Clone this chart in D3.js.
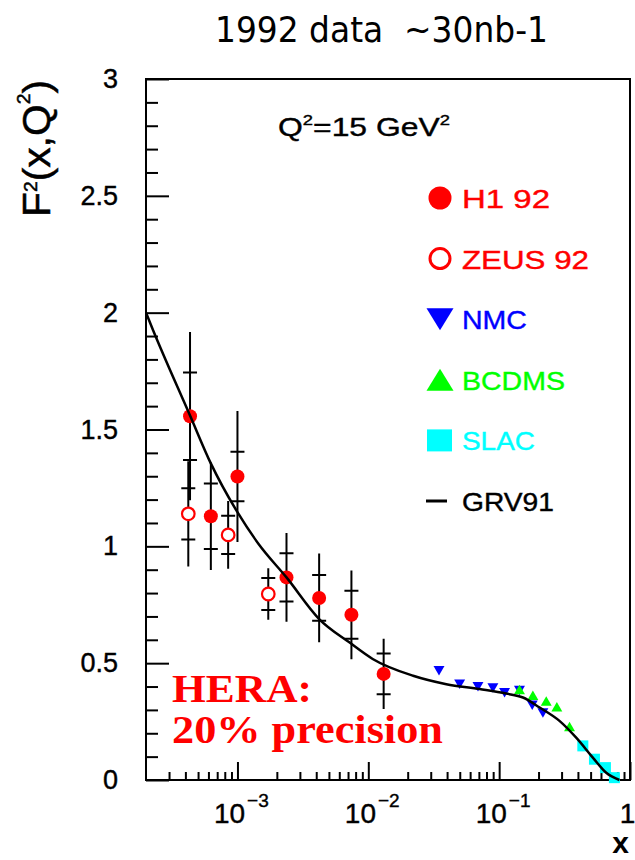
<!DOCTYPE html>
<html><head><meta charset="utf-8">
<script src="https://cdn.jsdelivr.net/npm/d3@7"></script>
<style>html,body{margin:0;padding:0;background:#fff;} svg{display:block;}</style>
</head><body><svg id="c" width="635" height="860"></svg>
<script>
// ---------- data ----------
const titleText = "1992 data  ~30nb-1";
const xDomain = [2e-4, 1];
const yDomain = [0, 3];
const yTickValues = [0, 0.5, 1, 1.5, 2, 2.5, 3];
const yTickLabels = ["0", "0.5", "1", "1.5", "2", "2.5", "3"];
const xTickValues = [1e-3, 1e-2, 1e-1, 1];
const xTickBase = ["10", "10", "10", "1"];
const xTickExp = ["\u22123", "\u22122", "\u22121", ""];

const h1X = [4.34e-4, 6.26e-4, 1.0e-3, 2.37e-3, 4.21e-3, 7.43e-3, 1.31e-2];
const h1F = [1.557, 1.129, 1.299, 0.867, 0.779, 0.707, 0.454];
const h1Stat = [0.187, 0.14, 0.106, 0.103, 0.098, 0.103, 0.087];
const h1Tot = [0.36, 0.23, 0.28, 0.19, 0.19, 0.19, 0.15];

const zeusX = [4.21e-4, 8.49e-4, 1.72e-3];
const zeusF = [1.139, 1.049, 0.796];
const zeusStat = [0.11, 0.082, 0.068];
const zeusTot = [0.225, 0.145, 0.11];

const nmcX = [0.0347, 0.0499, 0.0689, 0.0896, 0.110, 0.143, 0.179, 0.216];
const nmcF = [0.474, 0.417, 0.406, 0.400, 0.380, 0.390, 0.327, 0.294];

const bcdmsX = [0.143, 0.181, 0.229, 0.276, 0.345];
const bcdmsF = [0.381, 0.356, 0.331, 0.307, 0.222];

const slacX = [0.436, 0.535, 0.649, 0.76];
const slacF = [0.146, 0.089, 0.053, 0.010];

const grvX = [2.0e-4, 2.27e-4, 4.34e-4, 6.27e-4, 1.0e-3, 1.45e-3, 2.37e-3, 4.21e-3, 7.2e-3, 1.08e-2,
              0.022, 0.0395, 0.071, 0.113, 0.152, 0.204, 0.289, 0.388, 0.52, 0.658, 0.83];
const grvF = [2.0, 1.924, 1.56, 1.354, 1.146, 1.01, 0.867, 0.689, 0.588, 0.518,
              0.446, 0.41, 0.389, 0.37, 0.353, 0.31, 0.253, 0.181, 0.096, 0.031, 0.0];

const legendLabels = ["H1 92", "ZEUS 92", "NMC", "BCDMS", "SLAC", "GRV91"];
const q2Label = "Q";
const heraLines = ["HERA:", "20% precision"];

// ---------- layout / style ----------
const X0 = 146, X1 = 630, Y0 = 780, Y1 = 79;
const SANS = "'Liberation Sans', Arial, Helvetica, sans-serif";
const SERIF = "'Liberation Serif', 'Times New Roman', serif";
const RED = "#ff0000", BLUE = "#0000ff", GREEN = "#00ff00", CYAN = "#00ffff";
const legendColors = [RED, RED, BLUE, GREEN, CYAN, "#000"];
const legendWidths = [88, 127, 65, 103, 73, 92];

const svg = d3.select("#c");
const x = d3.scaleLog().domain(xDomain).range([X0, X1]);
const y = d3.scaleLinear().domain(yDomain).range([Y0, Y1]);

function fit(textSel, tx, ty, width, extra) {
  const len = textSel.node().getComputedTextLength();
  textSel.attr("x", 0).attr("y", 0)
    .attr("transform", `translate(${tx},${ty}) ${extra || ""} scale(${width / len},1)`);
}

// ---------- title ----------
const title = svg.append("text")
  .attr("font-family", "'DejaVu Sans', sans-serif")
  .attr("font-size", 36)
  .style("white-space", "pre")
  .attr("fill", "#000")
  .text(titleText);
fit(title, 215, 42, 333);

// ---------- axes ----------
const yMinor = d3.range(0, 31).filter(i => i % 5 !== 0).map(i => i / 10);
svg.append("g").attr("transform", `translate(${X0},0)`)
  .call(d3.axisLeft(y).tickValues(yMinor).tickSize(-12).tickFormat(""))
  .call(g => g.select(".domain").remove())
  .call(g => g.selectAll("line").attr("stroke", "#000").attr("stroke-width", 2));

svg.append("g").attr("transform", `translate(${X0},0)`)
  .call(d3.axisLeft(y).tickValues(yTickValues).tickSize(-23).tickPadding(28)
    .tickFormat((d, i) => yTickLabels[i]))
  .call(g => g.select(".domain").remove())
  .call(g => g.selectAll("line").attr("stroke", "#000").attr("stroke-width", 2))
  .call(g => g.selectAll("text").attr("font-family", SANS).attr("font-size", 27)
    .attr("fill", "#000").attr("stroke", "#000").attr("stroke-width", 0.4));

const xMinor = [];
for (let k = -4; k <= -1; k++) for (let m = 2; m <= 9; m++) {
  const v = m * Math.pow(10, k);
  if (v > xDomain[0] * 1.0001 && v < 1) xMinor.push(v);
}
svg.append("g").attr("transform", `translate(0,${Y0})`)
  .call(d3.axisBottom(x).tickValues(xMinor).tickSize(-8).tickFormat(""))
  .call(g => g.select(".domain").remove())
  .call(g => g.selectAll("line").attr("stroke", "#000").attr("stroke-width", 2));

const xg = svg.append("g").attr("transform", `translate(0,${Y0})`)
  .call(d3.axisBottom(x).tickValues(xTickValues).tickSize(-18).tickFormat(""))
  .call(g => g.select(".domain").remove())
  .call(g => g.selectAll("line").attr("stroke", "#000").attr("stroke-width", 2));
xg.selectAll(".tick text").each(function (d, i) {
  const t = d3.select(this).text("")
    .attr("font-family", SANS).attr("font-size", 28).attr("fill", "#000")
    .attr("stroke", "#000").attr("stroke-width", 0.4)
    .attr("dy", null).attr("y", 43);
  if (xTickExp[i]) {
    t.attr("text-anchor", "start").attr("x", -24);
    t.append("tspan").text(xTickBase[i]);
    t.append("tspan").attr("font-size", 19).attr("dy", -16).attr("dx", 2).text(xTickExp[i]);
  } else {
    t.attr("text-anchor", "middle").attr("x", -3).text(xTickBase[i]);
  }
});

// frame
svg.append("rect").attr("x", X0).attr("y", Y1).attr("width", X1 - X0).attr("height", Y0 - Y1)
  .attr("fill", "none").attr("stroke", "#000").attr("stroke-width", 2);

// axis titles
const ytitle = svg.append("text").attr("font-family", SANS).attr("font-size", 38).attr("fill", "#000")
  .attr("stroke", "#000").attr("stroke-width", 0.5);
ytitle.append("tspan").text("F");
ytitle.append("tspan").attr("font-size", 18).attr("dy", -13).text("2");
ytitle.append("tspan").attr("dy", 13).text("(x,Q");
ytitle.append("tspan").attr("font-size", 18).attr("dy", -20).text("2");
ytitle.append("tspan").attr("dy", 20).text(")");
fit(ytitle, 50, 217, 137, "rotate(-90)");

svg.append("text").attr("x", 629).attr("y", 853).attr("text-anchor", "end")
  .attr("font-family", SANS).attr("font-weight", "bold").attr("font-size", 30).attr("fill", "#000")
  .text("x");

// ---------- Q2 label ----------
const q2 = svg.append("text").attr("font-family", SANS).attr("font-size", 26).attr("fill", "#000")
  .attr("stroke", "#000").attr("stroke-width", 0.4);
q2.append("tspan").text(q2Label);
q2.append("tspan").attr("font-size", 15).attr("dy", -11).text("2");
q2.append("tspan").attr("dy", 11).text("=15 GeV");
q2.append("tspan").attr("font-size", 15).attr("dy", -11).text("2");
fit(q2, 278, 136, 172);

// ---------- HERA text ----------
heraLines.forEach((s, i) => {
  const t = svg.append("text").attr("font-family", SERIF).attr("font-weight", "bold")
    .attr("font-size", 41).attr("fill", RED).text(s);
  fit(t, 172, [702, 743][i], [140, 271][i]);
});

// ---------- data marks ----------
const h1 = h1X.map((v, i) => ({ x: v, f: h1F[i], s: h1Stat[i], t: h1Tot[i] }));
const zeus = zeusX.map((v, i) => ({ x: v, f: zeusF[i], s: zeusStat[i], t: zeusTot[i] }));
const errs = h1.concat(zeus);
const CB = 7;
svg.append("g").selectAll("path").data(errs).join("path")
  .attr("d", d => {
    const px = x(d.x);
    return `M${px},${y(d.f + d.t)}V${y(d.f - d.t)}` +
      `M${px - CB},${y(d.f + d.s)}H${px + CB}M${px - CB},${y(d.f - d.s)}H${px + CB}`;
  })
  .attr("fill", "none").attr("stroke", "#000").attr("stroke-width", 2);

svg.append("g").selectAll("circle").data(h1).join("circle")
  .attr("cx", d => x(d.x)).attr("cy", d => y(d.f)).attr("r", 7).attr("fill", RED);
svg.append("g").selectAll("circle").data(zeus).join("circle")
  .attr("cx", d => x(d.x)).attr("cy", d => y(d.f)).attr("r", 6.3)
  .attr("fill", "#fff").attr("stroke", RED).attr("stroke-width", 2.2);

const triSmall = d3.symbol().type(d3.symbolTriangle).size(52)();
svg.append("g").selectAll("path").data(nmcX.map((v, i) => [v, nmcF[i]])).join("path")
  .attr("d", triSmall).attr("fill", BLUE)
  .attr("transform", d => `translate(${x(d[0])},${y(d[1])}) rotate(180)`);
svg.append("g").selectAll("path").data(bcdmsX.map((v, i) => [v, bcdmsF[i]])).join("path")
  .attr("d", triSmall).attr("fill", GREEN)
  .attr("transform", d => `translate(${x(d[0])},${y(d[1])})`);
svg.append("g").selectAll("rect").data(slacX.map((v, i) => [v, slacF[i]])).join("rect")
  .attr("x", d => x(d[0]) - 5.5).attr("y", d => y(d[1]) - 5.5)
  .attr("width", 11).attr("height", 11).attr("fill", CYAN);

// GRV91 curve
const line = d3.line().x(d => x(d[0])).y(d => y(d[1])).curve(d3.curveMonotoneX);
svg.append("path").datum(grvX.map((v, i) => [v, grvF[i]]))
  .attr("d", line).attr("fill", "none").attr("stroke", "#000").attr("stroke-width", 2.5);

// ---------- legend ----------
const ly = d3.scalePoint().domain(legendLabels).range([198, 501]);
const LX = 440;
const lg = svg.append("g");
legendLabels.forEach((lab, i) => {
  const cy = ly(lab);
  if (i === 0) lg.append("circle").attr("cx", LX).attr("cy", cy).attr("r", 11.5).attr("fill", RED);
  if (i === 1) lg.append("circle").attr("cx", LX).attr("cy", cy).attr("r", 10)
    .attr("fill", "#fff").attr("stroke", RED).attr("stroke-width", 3);
  if (i === 2) lg.append("path").attr("d", "M-13.5,-11H13.5L0,11Z")
    .attr("transform", `translate(${LX},${cy})`).attr("fill", BLUE);
  if (i === 3) lg.append("path").attr("d", "M-13.5,11H13.5L0,-11Z")
    .attr("transform", `translate(${LX},${cy})`).attr("fill", GREEN);
  if (i === 4) lg.append("rect").attr("x", LX - 13).attr("y", cy - 11)
    .attr("width", 25).attr("height", 22).attr("fill", CYAN);
  if (i === 5) lg.append("line").attr("x1", LX - 14).attr("x2", LX + 7).attr("y1", cy).attr("y2", cy)
    .attr("stroke", "#000").attr("stroke-width", 3);
  const t = lg.append("text").attr("font-family", SANS).attr("font-size", 26)
    .attr("fill", legendColors[i]).attr("stroke", legendColors[i]).attr("stroke-width", 0.4)
    .style("white-space", "pre").text(lab);
  fit(t, 462, cy + 10, legendWidths[i]);
});
</script></body></html>
